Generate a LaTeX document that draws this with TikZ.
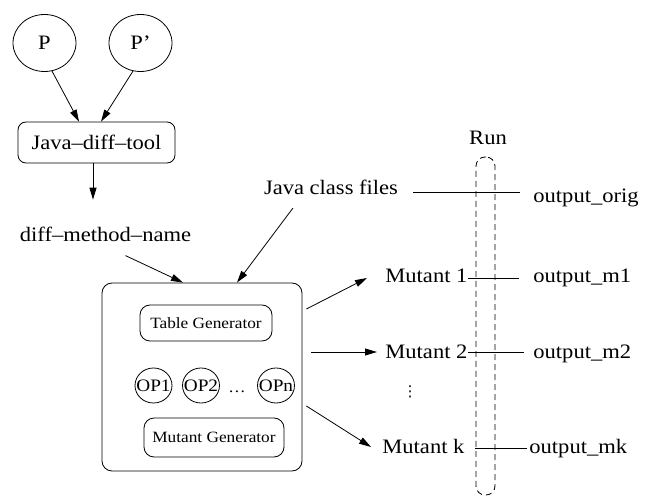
\documentclass[tikz,border=0pt]{standalone}
\usepackage{fontspec}
\setmainfont[FakeStretch=1.1]{Liberation Serif}
\newfontfamily\dejavu{DejaVu Sans}
\usetikzlibrary{shapes.geometric,arrows.meta,calc}
\begin{document}
\begin{tikzpicture}[x=1pt,y=-1pt,
  line width=0.8pt,
  lbl/.style={inner sep=0pt, font=\fontsize{20.5}{24}\selectfont},
  small/.style={font=\fontsize{15.7}{18}\selectfont},
  opfont/.style={font=\fontsize{17.5}{20}\selectfont, inner sep=0pt},
  oval/.style={draw, ellipse, inner sep=0pt},
  rbox/.style={draw, rectangle, rounded corners=#1, inner sep=0pt},
  rbox/.default=10pt,
  arr/.style={-{Triangle[length=12pt,width=7pt]}},
]
\path[use as bounding box] (0,0) rectangle (656,497);

% left part
\node[oval, lbl, minimum width=63pt, minimum height=57pt] (p) at (44.5,43) {P};
\node[oval, lbl, minimum width=63pt, minimum height=57pt] (pp) at (140.5,43) {P'};
\node[rbox=8pt, lbl, minimum width=157pt, minimum height=41pt] (jdt) at (96.5,142.5) {Java--diff--tool};
\node[lbl, anchor=base] (dmn) at (105.5,241) {diff--method--name};

% big box
\node[rbox=10pt, minimum width=200pt, minimum height=188pt] (big) at (202,377) {};
\node[rbox=10pt, small, minimum width=132pt, minimum height=36pt] (tg) at (206,323) {Table Generator};
\node[rbox=10pt, small, minimum width=140pt, minimum height=39pt] (mg) at (214,437.5) {Mutant Generator};
\node[oval, minimum width=37pt, minimum height=35pt, label={[opfont]center:OP1}] (op1) at (153.5,385.5) {};
\node[oval, minimum width=37pt, minimum height=35pt, label={[opfont]center:OP2}] (op2) at (201,385.5) {};
\node[oval, minimum width=37pt, minimum height=35pt, label={[opfont]center:OPn}] (opn) at (276,385.5) {};
\node[small, inner sep=0pt, anchor=base] (dots) at (237,392) {\dots};

% right part
\node[lbl, anchor=base] (jcf) at (331,195) {Java class files};
\node[lbl, anchor=base] (run) at (488,145) {Run};
\node[rbox=9pt, dash pattern=on 6pt off 4pt, minimum width=19pt, minimum height=338pt] (runbox) at (485.5,326) {};
\node[lbl, anchor=base west] (m1) at (385,283) {Mutant 1};
\node[lbl, anchor=base west] (m2) at (385,358) {Mutant 2};
\node[lbl, anchor=base west] (mk) at (382,453) {Mutant k};
\node[inner sep=0pt, font=\dejavu\fontsize{15}{18}\selectfont] (vd) at (410,392) {⋮};
\node[lbl, anchor=base west] (oorig) at (533,203) {output\_orig};
\node[lbl, anchor=base west] (om1) at (533,283) {output\_m1};
\node[lbl, anchor=base west] (om2) at (533,358) {output\_m2};
\node[lbl, anchor=base west] (omk) at (529,453) {output\_mk};

% connectors
\draw[arr] (p.-75) -- ($(jdt.north)+(-17.5,0)$);
\draw[arr] (pp.-105) -- ($(jdt.north)+(4.5,0)$);
\draw[arr] ($(jdt.south)+(-3.5,0)$) -- ($(dmn.north)+(-12.5,-26.5)$);
\draw[arr] ($(dmn.south)+(20,14)$) -- ($(big.north)+(-19,0)$);
\draw[arr] ($(jcf.base)+(-38,13)$) -- ($(big.north)+(35,0)$);
\draw ($(jcf.base east)+(15,-3)$) -- ($(oorig.base west)+(-13,-11)$);
\draw[arr] ($(big.east)+(4,-68)$) -- ($(m1.base west)+(-18,-5)$);
\draw[arr] ($(big.east)+(9,-25)$) -- ($(m2.base west)+(-8,-6)$);
\draw[arr] ($(big.east)+(4,29)$) -- ($(mk.base west)+(-11,-6)$);
\draw ($(m1.base east)+(0,-5)$) -- ($(om1.base west)+(-14,-5)$);
\draw ($(m2.base east)+(0,-6)$) -- ($(om2.base west)+(-9,-6)$);
\draw ($(mk.base east)+(10,-5)$) -- ($(omk.base west)+(-2,-5)$);
\end{tikzpicture}
\end{document}
